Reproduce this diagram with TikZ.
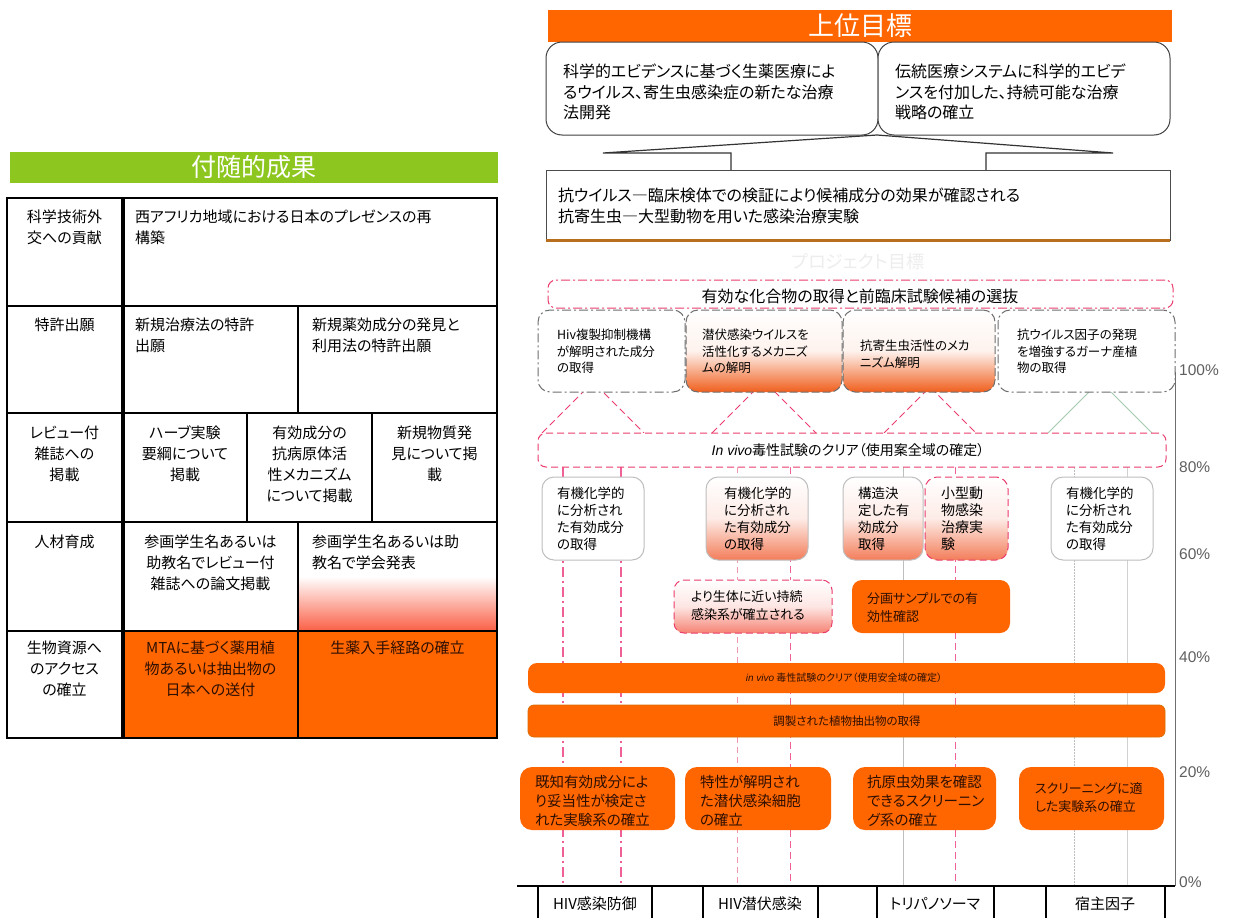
\documentclass[tikz,border=0pt]{standalone}
\usepackage{fontspec}
\setmainfont{Noto Sans CJK JP}[RawFeature=+palt]
\newfontfamily\latinfont{Liberation Sans}
\usetikzlibrary{fit}
\definecolor{orng}{RGB}{255,102,0}
\definecolor{otext}{RGB}{45,15,0}
\definecolor{grn}{RGB}{140,198,30}
\definecolor{pinkd}{RGB}{235,60,110}
\definecolor{pinkg}{RGB}{240,95,150}
\definecolor{pinkl}{RGB}{240,150,175}
\definecolor{grayb}{RGB}{110,110,110}
\definecolor{grayl}{RGB}{190,190,190}
\definecolor{gradorng}{RGB}{240,95,30}
\definecolor{gradlt}{RGB}{243,125,90}
\definecolor{gradpink}{RGB}{245,130,115}
\definecolor{tabgrad}{RGB}{250,95,70}
\definecolor{shadowb}{RGB}{185,110,30}
\definecolor{trig}{RGB}{165,200,175}
\definecolor{pctgray}{RGB}{95,95,95}
\newcommand\myfs[2]{\fontsize{#1}{#2}\selectfont}
\begin{document}
\begin{tikzpicture}[x=1pt,y=-1pt,
  bx/.style={inner sep=0pt,outer sep=0pt},
  tl/.style={inner sep=0pt,outer sep=0pt,anchor=north west,align=left},
  tc/.style={inner sep=0pt,outer sep=0pt,anchor=north,align=center},
  cellbox/.style={bx,draw=black,line width=1.3pt},
  goalbox/.style={bx,draw=black!75,line width=1pt,rounded corners=16pt,fill=white},
  pdash/.style={draw=pinkd,dash pattern=on 7pt off 4pt,line width=1pt},
  pdashdot/.style={draw=pinkg,dash pattern=on 10pt off 4pt on 2pt off 4pt,line width=1.1pt},
  gdashdot/.style={draw=grayb,dash pattern=on 9pt off 3pt on 2pt off 3pt,line width=1pt},
  obox/.style={bx,fill=orng,rounded corners=12pt},
  gradbox/.style={bx,top color=white,bottom color=gradorng,middle color=white!92!gradorng},
  gradbox2/.style={bx,top color=white,bottom color=gradlt,middle color=white!85!gradlt},
  tablab/.style={tc,font=\myfs{15}{21}},
  tabtxt/.style={tl,font=\myfs{15}{21}},
  pct/.style={inner sep=0pt,anchor=west,font=\latinfont\myfs{15.5}{15.5},text=pctgray},
  catlab/.style={inner sep=0pt,font=\myfs{15}{15}},
]
\useasboundingbox (0,0) rectangle (1255,918);
\fill[white] (0,0) rectangle (1255,918);

% ---------------- guidelines (behind everything) ----------------
\coordinate (v1t) at (563,467);  \coordinate (v1b) at (563,886);
\coordinate (v2t) at (621,467);  \coordinate (v2b) at (621,886);
\coordinate (v3t) at (737,467);  \coordinate (v3b) at (737,886);
\coordinate (v4t) at (790,467);  \coordinate (v4b) at (790,886);
\coordinate (v5t) at (903,467);  \coordinate (v5b) at (903,886);
\coordinate (v6t) at (955,467);  \coordinate (v6b) at (955,886);
\coordinate (v7t) at (1074,467); \coordinate (v7b) at (1074,886);
\coordinate (v8t) at (1127,467); \coordinate (v8b) at (1127,886);
\draw[pdashdot] (v1t) -- (v1b);
\draw[pdashdot] (v2t) -- (v2b);
\draw[draw=pinkl,dash pattern=on 6pt off 4pt,line width=1pt] (v3t) -- (v3b);
\draw[pdash,draw=pinkg] (v4t) -- (v4b);
\draw[draw=grayl,line width=1pt] (v5t) -- (v5b);
\draw[pdash,draw=pinkg] (v6t) -- (v6b);
\draw[draw=grayl,dash pattern=on 1.5pt off 1.5pt,line width=1pt] (v7t) -- (v7b);
\draw[draw=grayl!70,line width=1pt] (v8t) -- (v8b);

% ---------------- triangles ----------------
\coordinate (t1l) at (542,433); \coordinate (t1a) at (593,382); \coordinate (t1r) at (644,433);
\coordinate (t2l) at (712,433); \coordinate (t2a) at (764,381); \coordinate (t2r) at (816,433);
\coordinate (t3l) at (884,433); \coordinate (t3a) at (930,387); \coordinate (t3r) at (976,433);
\coordinate (t4l) at (1048,433); \coordinate (t4a) at (1100,381); \coordinate (t4r) at (1152,433);
\draw[pdash] (t1l) -- (t1a) -- (t1r);
\draw[pdash] (t2l) -- (t2a) -- (t2r);
\draw[pdash] (t3l) -- (t3a) -- (t3r);
\draw[draw=trig,line width=1pt] (t4l) -- (t4a) -- (t4r);

% ---------------- left: 付随的成果 ----------------
\node[bx,fill=grn,fit={(10,152) (498,183)}] (fz) {};
\node[inner sep=0pt,font=\myfs{25}{25},text=white] (fzt) at (fz.center) {付随的成果};

\node[cellbox,fit={(7,198) (123,306)}] (r1l) {};
\node[cellbox,fit={(123,198) (497,306)}] (r1c) {};
\node[cellbox,fit={(7,306) (123,413)}] (r2l) {};
\node[cellbox,fit={(123,306) (298,413)}] (r2a) {};
\node[cellbox,fit={(298,306) (497,413)}] (r2b) {};
\node[cellbox,fit={(7,413) (123,522)}] (r3l) {};
\node[cellbox,fit={(123,413) (247,522)}] (r3a) {};
\node[cellbox,fit={(247,413) (372,522)}] (r3b) {};
\node[cellbox,fit={(372,413) (497,522)}] (r3c) {};
\node[cellbox,fit={(7,522) (123,631)}] (r4l) {};
\node[cellbox,fit={(123,522) (298,631)}] (r4a) {};
\node[cellbox,top color=white,bottom color=tabgrad,middle color=white,fit={(298,522) (497,631)}] (r4b) {};
\node[cellbox,fit={(7,631) (123,738)}] (r5l) {};
\node[cellbox,fill=orng,fit={(123,631) (298,738)}] (r5a) {};
\node[cellbox,fill=orng,fit={(298,631) (497,738)}] (r5b) {};
\draw[line width=3.5pt] (r1l.north east) -- (r5l.south east);

\node[tablab] (r1lt) at (64.5,210) {科学技術外\\交への貢献};
\node[tabtxt] (r1ct) at (135,210) {西アフリカ地域における日本のプレゼンスの再\\構築};
\node[tablab] (r2lt) at (64.5,318) {特許出願};
\node[tabtxt] (r2at) at (135,318) {新規治療法の特許\\出願};
\node[tabtxt] (r2bt) at (312,318) {新規薬効成分の発見と\\利用法の特許出願};
\node[tablab] (r3lt) at (64.5,426) {レビュー付\\雑誌への\\掲載};
\node[tablab] (r3at) at (185,426) {ハーブ実験\\要綱について\\掲載};
\node[tablab] (r3bt) at (309.5,426) {有効成分の\\抗病原体活\\性メカニズム\\について掲載};
\node[tablab] (r3ct) at (434.5,426) {新規物質発\\見について掲\\載};
\node[tablab] (r4lt) at (64.5,535) {人材育成};
\node[tablab] (r4at) at (210.5,535) {参画学生名あるいは\\助教名でレビュー付\\雑誌への論文掲載};
\node[tabtxt] (r4bt) at (312,535) {参画学生名あるいは助\\教名で学会発表};
\node[tablab] (r5lt) at (64.5,641) {生物資源へ\\のアクセス\\の確立};
\node[tablab,text=otext] (r5at) at (210.5,641) {MTAに基づく薬用植\\物あるいは抽出物の\\日本への送付};
\node[tablab,text=otext] (r5bt) at (397.5,641) {生薬入手経路の確立};

% ---------------- right: 上位目標 ----------------
\node[bx,fill=orng,fit={(548,10) (1172,42)}] (hd) {};
\node[inner sep=0pt,font=\myfs{26}{26},text=white] (hdt) at (hd.center) {上位目標};

\node[goalbox,fit={(546,42) (878,135)}] (g1) {};
\node[goalbox,fit={(878,42) (1170,135)}] (g2) {};
\node[tl,font=\myfs{16}{20.5}] (g1t) at (563,64) {科学的エビデンスに基づく生薬医療によ\\るウイルス、寄生虫感染症の新たな治療\\法開発};
\node[tl,font=\myfs{16}{20.5}] (g2t) at (895,64) {伝統医療システムに科学的エビデ\\ンスを付加した、持続可能な治療\\戦略の確立};

\coordinate (fa) at (877,135);
\coordinate (fl) at (603,153);  \coordinate (fr) at (1113,153);
\coordinate (flt) at (731,153); \coordinate (flb) at (731,170);
\coordinate (frt) at (986,153); \coordinate (frb) at (986,170);
\draw[black!80,line width=1.2pt] (flb) -- (flt) -- (fl) -- (fa) -- (fr) -- (frt) -- (frb);

\node[bx,draw=black!70,line width=1pt,fill=white,fit={(546,170) (1170,240)}] (cand) {};
\draw[shadowb,line width=3pt] (cand.south west) -- (cand.south east);
\node[tl,font=\myfs{16}{21}] (candt) at (558,188) {抗ウイルス―臨床検体での検証により候補成分の効果が確認される\\抗寄生虫―大型動物を用いた感染治療実験};

\node[inner sep=0pt,font=\myfs{18}{18},text=black!7] (pgl) at (858,262) {プロジェクト目標};

\node[bx,fill=white,draw=pinkd,dash pattern=on 9pt off 3pt on 2pt off 3pt,line width=1pt,rounded corners=8pt,fit={(548,280) (1173,308)}] (pgb) {};
\node[inner sep=0pt,font=\myfs{16}{16}] (pgbt) at (860,296) {有効な化合物の取得と前臨床試験候補の選抜};

\node[bx,fill=white,gdashdot,rounded corners=12pt,fit={(538,310) (685,392)}] (b1) {};
\node[gradbox,draw=grayb,dash pattern=on 8pt off 3pt,line width=1pt,rounded corners=12pt,fit={(686,310) (842,392)}] (b2) {};
\node[gradbox,draw=grayb,dash pattern=on 8pt off 3pt,line width=1pt,rounded corners=12pt,fit={(843,310) (995,392)}] (b3) {};
\node[bx,fill=white,gdashdot,rounded corners=12pt,fit={(998,310) (1175,392)}] (b4) {};
\node[tl,font=\myfs{12.5}{16.5}] (b1t) at (557,329) {Hiv複製抑制機構\\が解明された成分\\の取得};
\node[tl,font=\myfs{12.5}{16.5}] (b2t) at (702,329) {潜伏感染ウイルスを\\活性化するメカニズ\\ムの解明};
\node[tl,font=\myfs{12.5}{16.5}] (b3t) at (860,340) {抗寄生虫活性のメカ\\ニズム解明};
\node[tl,font=\myfs{12.5}{16.5}] (b4t) at (1017,329) {抗ウイルス因子の発現\\を増強するガーナ産植\\物の取得};

\node[bx,fill=white,pdash,rounded corners=8pt,fit={(538,433) (1166,467)}] (iv) {};
\node[inner sep=0pt,font=\myfs{14}{14}] (ivt) at (848,450) {{\latinfont\itshape In vivo}毒性試験のクリア（使用案全域の確定）};

% row 2
\node[bx,fill=white,draw=grayl,line width=1pt,rounded corners=12pt,fit={(542,477) (644,560)}] (ra) {};
\node[gradbox2,draw=grayl,line width=1pt,rounded corners=12pt,fit={(706,477) (808,560)}] (rb) {};
\node[gradbox2,draw=grayl,line width=1pt,rounded corners=12pt,fit={(843,477) (923,560)}] (rc) {};
\node[gradbox2,pdash,rounded corners=12pt,fit={(925,477) (1008,560)}] (rd) {};
\node[bx,fill=white,draw=grayl,line width=1pt,rounded corners=12pt,fit={(1051,477) (1153,560)}] (re) {};
\node[tl,font=\myfs{13.5}{17}] (rat) at (557,487) {有機化学的\\に分析され\\た有効成分\\の取得};
\node[tl,font=\myfs{13.5}{17}] (rbt) at (724,487) {有機化学的\\に分析され\\た有効成分\\の取得};
\node[tl,font=\myfs{13.5}{17}] (rct) at (858,487) {構造決\\定した有\\効成分\\取得};
\node[tl,font=\myfs{14}{17}] (rdt) at (941,487) {小型動\\物感染\\治療実\\験};
\node[tl,font=\myfs{13.5}{17}] (ret) at (1066,487) {有機化学的\\に分析され\\た有効成分\\の取得};

% row 3
\node[bx,top color=white,bottom color=gradpink,middle color=white!80!gradpink,pdash,rounded corners=10pt,fit={(674,580) (832,633)}] (rf) {};
\node[obox,rounded corners=10pt,fit={(852,580) (1010,633)}] (rg) {};
\node[tl,font=\myfs{13}{18}] (rft) at (691,591) {より生体に近い持続\\感染系が確立される};
\node[tl,font=\myfs{13}{18},text=otext] (rgt) at (867,593) {分画サンプルでの有\\効性確認};

% bars
\node[obox,rounded corners=9pt,fit={(528,663) (1165,693)}] (bar1) {};
\node[inner sep=0pt,font=\myfs{10}{10},text=otext] (bar1t) at (844,678) {{\latinfont\itshape in vivo} 毒性試験のクリア（使用安全域の確定）};
\node[obox,rounded corners=6pt,draw=orng!70!olive,line width=0.8pt,fit={(528,705) (1165,737)}] (bar2) {};
\node[inner sep=0pt,font=\myfs{11.5}{11.5},text=otext] (bar2t) at (847,721) {調製された植物抽出物の取得};

% bottom boxes
\node[obox,fit={(520,767) (675,830)}] (bh) {};
\node[obox,fit={(685,767) (831,830)}] (bi) {};
\node[obox,fit={(853,767) (996,830)}] (bj) {};
\node[obox,fit={(1019,767) (1164,830)}] (bk) {};
\node[tl,font=\myfs{14.5}{19},text=otext] (bht) at (535,775) {既知有効成分によ\\り妥当性が検定さ\\れた実験系の確立};
\node[tl,font=\myfs{14.5}{19},text=otext] (bit) at (700,775) {特性が解明され\\た潜伏感染細胞\\の確立};
\node[tl,font=\myfs{14.5}{19},text=otext] (bjt) at (867,775) {抗原虫効果を確認\\できるスクリーニン\\グ系の確立};
\node[tl,font=\myfs{13}{18},text=otext] (bkt) at (1035,783) {スクリーニングに適\\した実験系の確立};

% axis
\coordinate (axt) at (1175,372); \coordinate (axb) at (1175,886);
\coordinate (axl) at (517,886);
\draw[grayb,line width=1pt] (axt) -- (axb);
\draw[black,line width=1.5pt] (axl) -- (axb);
\node[pct] (p100) at (1179,370) {100\%};
\node[pct] (p80) at (1179,467) {80\%};
\node[pct] (p60) at (1179,554) {60\%};
\node[pct] (p40) at (1179,657) {40\%};
\node[pct] (p20) at (1179,772) {20\%};
\node[pct] (p0) at (1179,882) {0\%};

% category row
\foreach \xx [count=\i] in {538,652,703,818,877,994,1046,1165} {
  \coordinate (s\i t) at (\xx,886); \coordinate (s\i b) at (\xx,918);
  \draw[black,line width=1.2pt] (s\i t) -- (s\i b);
}
\node[catlab] (c1) at (595,904) {HIV感染防御};
\node[catlab] (c2) at (760,904) {HIV潜伏感染};
\node[catlab] (c3) at (935,904) {トリパノソーマ};
\node[catlab] (c4) at (1105,904) {宿主因子};
\end{tikzpicture}
\end{document}
